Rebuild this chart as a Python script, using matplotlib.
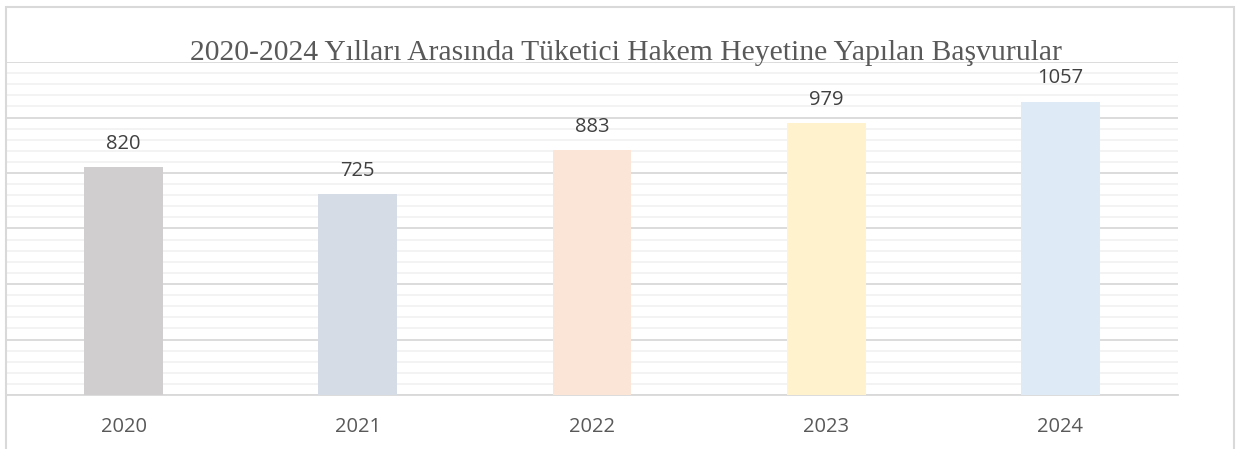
import numpy as np
import matplotlib.pyplot as plt
from matplotlib.patches import Rectangle

# data
years = ["2020", "2021", "2022", "2023", "2024"]
values = [820, 725, 883, 979, 1057]
colors = ["#d0cece", "#d6dce5", "#fbe5d6", "#fff2cc", "#deebf7"]
title = "2020-2024 Yılları Arasında Tüketici Hakem Heyetine Yapılan Başvurular"

W, H = 1236, 449
fig = plt.figure(figsize=(W / 100, H / 100), dpi=100)

# chart border (open at the bottom, like the cropped original)
fig.patches.append(Rectangle((6 / W, -0.1), (1234 - 6) / W, (H - 7) / H + 0.1,
                             transform=fig.transFigure, fill=False,
                             edgecolor="#d9d9d9", linewidth=1.5))

ax = fig.add_axes([6.4 / W, (H - 395) / H, (1177.6 - 6.4) / W, (395 - 62) / H])
x = np.arange(len(years))
ax.bar(x, values, width=0.337, color=colors, zorder=3)

ax.set_xlim(-0.5, len(years) - 0.5)
ax.set_ylim(0, 1200)
ax.set_yticks(np.arange(0, 1201, 200))
ax.set_yticks(np.arange(0, 1201, 40), minor=True)
ax.grid(axis="y", which="major", color="#d9d9d9", linewidth=1.3, zorder=1)
ax.grid(axis="y", which="minor", color="#f2f2f2", linewidth=1.3, zorder=0)
ax.tick_params(axis="y", which="both", left=False, labelleft=False)
ax.tick_params(axis="x", length=0, pad=16, labelsize=14.5, labelcolor="#595959")
ax.set_xticks(x)
ax.set_xticklabels(years, fontfamily="Open Sans")
for s in ["top", "left", "right"]:
    ax.spines[s].set_visible(False)
ax.spines["bottom"].set_color("#d9d9d9")
ax.spines["bottom"].set_linewidth(1.3)

for xi, v in zip(x, values):
    ax.annotate(str(v), (xi, v), xytext=(0, 9.5), textcoords="offset points",
                ha="center", va="bottom", fontsize=14.5, color="#404040",
                fontfamily="Open Sans")

fig.text(626 / W, (H - 60) / H, title, ha="center", va="baseline",
         fontsize=21.3, color="#595959", fontfamily="Liberation Serif")

fig.savefig("out.png", dpi=100)
